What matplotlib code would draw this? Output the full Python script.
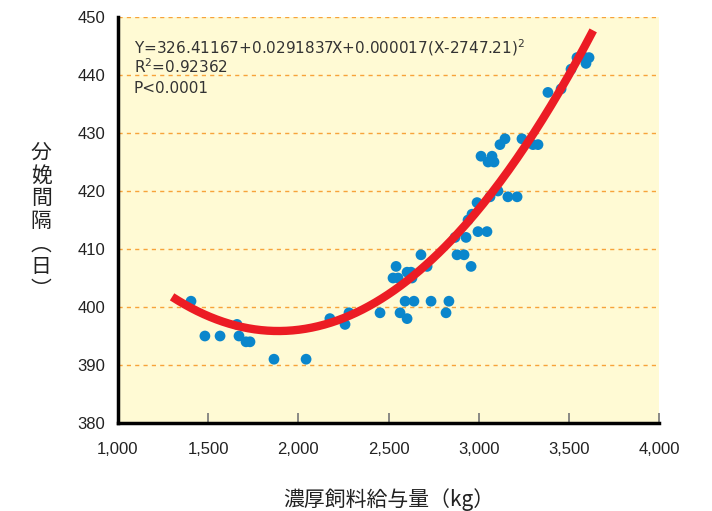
"""Scatter of calving interval vs concentrate feed amount with quadratic fit."""

import numpy as np
import matplotlib.pyplot as plt
from matplotlib.ticker import FuncFormatter

plt.rcParams["font.family"] = ["Noto Sans CJK JP", "DejaVu Sans"]

# concentrate feed (kg) and calving interval (days)
feed_kg = [
    1405, 1482, 1566, 1660, 1671, 1710, 1732, 1865, 2043, 2175,
    2259, 2281, 2453, 2525, 2542, 2553, 2564, 2592, 2603, 2603,
    2625, 2641, 2630, 2680, 2714, 2736, 2819, 2835, 2869, 2880,
    2919, 2930, 2941, 2963, 2958, 2991, 2996, 3013, 3046, 3052,
    3063, 3074, 3085, 3107, 3118, 3146, 3162, 3213, 3240, 3301,
    3329, 3384, 3457, 3512, 3545, 3590, 3595, 3612,
]
interval_days = [
    401, 395, 395, 397, 395, 394, 394, 391, 391, 398,
    397, 399, 399, 405, 407, 405, 399, 401, 398, 406,
    406, 401, 405, 409, 407, 401, 399, 401, 412, 409,
    409, 412, 415, 416, 407, 418, 413, 426, 413, 425,
    419, 426, 425, 420, 428, 429, 419, 419, 429, 428,
    428, 437, 437.6, 441, 443, 443, 442, 443,
]

# fitted curve from the equation printed on the chart
fit_a, fit_b, fit_c, fit_x0 = 326.41167, 0.0291837, 0.000017, 2747.21
fit_shift = 1.8  # the drawn curve sits slightly above the printed equation
fit_start, fit_end = 1300, 3635

xticks = [1000, 1500, 2000, 2500, 3000, 3500, 4000]
yticks = [380, 390, 400, 410, 420, 430, 440, 450]

fig = plt.figure(figsize=(7.12, 5.11), dpi=100)
ax = fig.add_axes([0.1657, 0.1722, 0.7599, 0.7945])
ax.set_facecolor("#fffad4")

ax.set_xlim(1000, 4000)
ax.set_ylim(380, 450)

for yv in yticks[1:]:
    ax.axhline(yv, color="#f7a33a", lw=1.0, ls=(0, (3, 3)), zorder=1)

ax.scatter(feed_kg, interval_days, s=60, color="#0a86cc", edgecolors="none", zorder=3)

fx = np.linspace(fit_start, fit_end, 200)
fy = fit_a + fit_b * fx + fit_c * (fx - fit_x0) ** 2 + fit_shift
ax.plot(fx, fy, color="#ec1c24", lw=6, solid_capstyle="butt", zorder=4)

for side in ["top", "right"]:
    ax.spines[side].set_visible(False)
ax.spines["left"].set_linewidth(2.5)
ax.spines["bottom"].set_linewidth(2.5)

ax.set_xticks(xticks)
ax.set_yticks(yticks)
ax.xaxis.set_major_formatter(FuncFormatter(lambda v, p: f"{int(v):,}"))
ax.tick_params(axis="x", direction="in", length=7, width=1.2, color="#777777",
               labelsize=12, pad=14)
ax.tick_params(axis="y", length=0, labelsize=12, pad=9)
for lab in ax.get_xticklabels() + ax.get_yticklabels():
    lab.set_family(["Liberation Sans", "DejaVu Sans"])
    lab.set_color("#222222")

# regression summary in the upper left
note_lines = [
    "Y=326.41167+0.0291837X+0.000017(X-2747.21)$^{2}$",
    "R$^{2}$=0.92362",
    "P<0.0001",
]
for i, line in enumerate(note_lines):
    ax.text(0.029, 0.91 - i * 0.048, line, transform=ax.transAxes,
            fontsize=11, color="#333333", family=["DejaVu Sans"],
            va="baseline")

ax.set_xlabel("濃厚飼料給与量（kg）", fontsize=15, color="#222222", labelpad=22)
fig.text(0.058, 0.567, "分\n娩\n間\n隔\n︵\n日\n︶", fontsize=15,
         color="#222222", ha="center", va="center", linespacing=1.05)

fig.savefig("out.png", dpi=100)
